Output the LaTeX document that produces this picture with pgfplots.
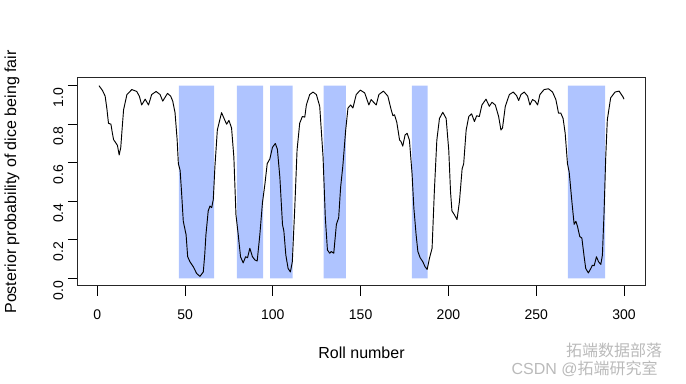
\documentclass[border=0pt]{standalone}
\usepackage{pgfplots}
\pgfplotsset{compat=1.18}
\usepackage{fontspec}
\setmainfont{Liberation Sans}
\newfontfamily\cjk{Noto Sans CJK SC}
\definecolor{barblue}{RGB}{175,196,255}
\begin{document}
\begin{tikzpicture}
\begin{axis}[
  at={(0,0)}, anchor=south west,
  scale only axis,
  width=425.25pt, height=156pt,
  xmin=-10.96, xmax=311.96,
  ymin=-0.04, ymax=1.04,
  axis line style={line width=0.75pt, black!85},
  xtick={0,50,100,150,200,250,300},
  ytick={0,0.2,0.4,0.6,0.8,1.0},
  yticklabels={0.0,0.2,0.4,0.6,0.8,1.0},
  tick pos=left,
  tick align=outside,
  major tick length=7.5pt,
  tick style={line width=0.75pt, black},
  /pgf/number format/assume math mode=true,
  ticklabel style={font=\fontsize{10.5}{12}\selectfont},
  xticklabel style={yshift=-6.5pt},
  yticklabel style={rotate=90, anchor=south, xshift=-9pt},
  xlabel={Roll number},
  ylabel={Posterior probability of dice being fair},
  label style={font=\fontsize{12}{14}\selectfont},
  xlabel style={at={(axis description cs:0.5,-0.32)}, anchor=center},
  ylabel style={at={(axis description cs:-0.1164,0.5)}, anchor=center, rotate=0},
  clip=true,
]
\addplot[fill=barblue, draw=none] coordinates {(46.5,0) (46.5,1) (66.5,1) (66.5,0)} \closedcycle;
\addplot[fill=barblue, draw=none] coordinates {(79.5,0) (79.5,1) (94.5,1) (94.5,0)} \closedcycle;
\addplot[fill=barblue, draw=none] coordinates {(98.4,0) (98.4,1) (111.3,1) (111.3,0)} \closedcycle;
\addplot[fill=barblue, draw=none] coordinates {(128.9,0) (128.9,1) (141.6,1) (141.6,0)} \closedcycle;
\addplot[fill=barblue, draw=none] coordinates {(179.2,0) (179.2,1) (188.2,1) (188.2,0)} \closedcycle;
\addplot[fill=barblue, draw=none] coordinates {(268,0) (268,1) (289.2,1) (289.2,0)} \closedcycle;
\addplot[black, line width=0.7pt, line join=round] table {
x y
1 1.0
3 0.975
4.5 0.946
5.5 0.88
6.4 0.805
7.8 0.80
8.5 0.76
9.3 0.72
10.8 0.70
11.5 0.69
12.5 0.64
13.4 0.68
14.2 0.78
15 0.875
16.9 0.954
19.7 0.98
22.5 0.97
24 0.945
25.3 0.90
27.3 0.93
29.2 0.90
31 0.954
33.5 0.97
35.8 0.954
37.3 0.92
40 0.96
41.8 0.946
43 0.92
44.3 0.86
45.5 0.72
46.2 0.595
47.2 0.56
48 0.45
49 0.296
50.6 0.226
51.5 0.112
52.8 0.086
54.7 0.06
56.6 0.025
58.5 0.01
60.4 0.033
61.2 0.12
61.9 0.226
63.2 0.35
64.2 0.375
65.2 0.367
66.1 0.41
67 0.577
68.4 0.77
70.8 0.86
72.7 0.82
73.7 0.80
75 0.82
76.5 0.78
77.8 0.63
79 0.33
80.3 0.226
81.6 0.112
83.1 0.08
84.5 0.112
85.6 0.107
86.9 0.156
88.4 0.112
89.8 0.095
91.1 0.09
92.6 0.226
94.1 0.393
95.5 0.49
96.8 0.595
98.3 0.62
99.8 0.68
101.4 0.70
102.6 0.67
104 0.525
105.5 0.28
106.3 0.244
107.4 0.121
108.7 0.051
110 0.033
111.1 0.086
112.5 0.367
113.8 0.665
115.3 0.805
116.8 0.84
118.2 0.837
119.1 0.90
121 0.954
122.9 0.967
124.8 0.954
126.7 0.893
128.6 0.63
129.9 0.314
131.1 0.147
132.4 0.13
133.3 0.139
134.7 0.13
136.2 0.28
137.5 0.314
138.6 0.472
139.9 0.586
141.5 0.77
142.8 0.884
144.3 0.90
145.6 0.884
147.5 0.954
149.8 0.977
152.3 0.963
154.7 0.90
156 0.928
157.4 0.914
158.9 0.90
160.4 0.954
163 0.972
165.5 0.946
167.4 0.875
168.4 0.844
169.3 0.849
170.6 0.81
172.2 0.717
173 0.71
174 0.686
175.3 0.744
176.5 0.753
177.8 0.717
179.3 0.542
180.3 0.367
181.6 0.226
182.6 0.139
183.9 0.107
185.4 0.086
186.7 0.06
187.9 0.046
189.2 0.104
190.7 0.156
192 0.454
193.4 0.717
194.9 0.83
196.8 0.862
198.7 0.83
200.2 0.665
201.2 0.45
202 0.35
203.4 0.33
204.9 0.305
206.3 0.40
207.8 0.568
208.7 0.595
210.1 0.77
211.6 0.84
213.2 0.854
214.8 0.814
216.1 0.844
217.6 0.84
219.1 0.90
221.4 0.93
223.3 0.893
224.8 0.914
226.7 0.90
228.6 0.84
229.9 0.77
230.8 0.78
232.4 0.893
234.7 0.954
236.9 0.967
238.8 0.949
240 0.923
241.3 0.954
243.2 0.967
245.1 0.946
246.4 0.90
247.9 0.928
249.4 0.92
250.8 0.90
252.1 0.954
254.5 0.98
257 0.984
259.3 0.967
261.2 0.928
262.7 0.858
264 0.858
265.3 0.83
266.5 0.753
267.8 0.595
268.8 0.55
270.3 0.40
271.6 0.28
272.6 0.296
273.5 0.27
274.8 0.217
276 0.209
277.3 0.112
278.2 0.051
279.7 0.028
281.1 0.051
282 0.068
283 0.065
284.3 0.112
285.5 0.086
286.8 0.072
287.7 0.121
288.6 0.33
289.6 0.63
290.5 0.823
292.4 0.937
294.9 0.967
297.2 0.972
299.4 0.942
300 0.93
};
\end{axis}
\node[text=black!27, font=\cjk\fontsize{12}{14}\selectfont, anchor=center, inner sep=0pt] at (402pt,-48.5pt) {拓端数据部落};
\node[text=black!27, font=\fontsize{12}{14}\selectfont, anchor=center, inner sep=0pt] at (380pt,-62pt) {CSDN @{\cjk 拓端研究室}};
\pgfresetboundingbox
\path[use as bounding box] (-58.5pt,-73.5pt) rectangle (456pt,214.5pt);
\end{tikzpicture}
\end{document}
